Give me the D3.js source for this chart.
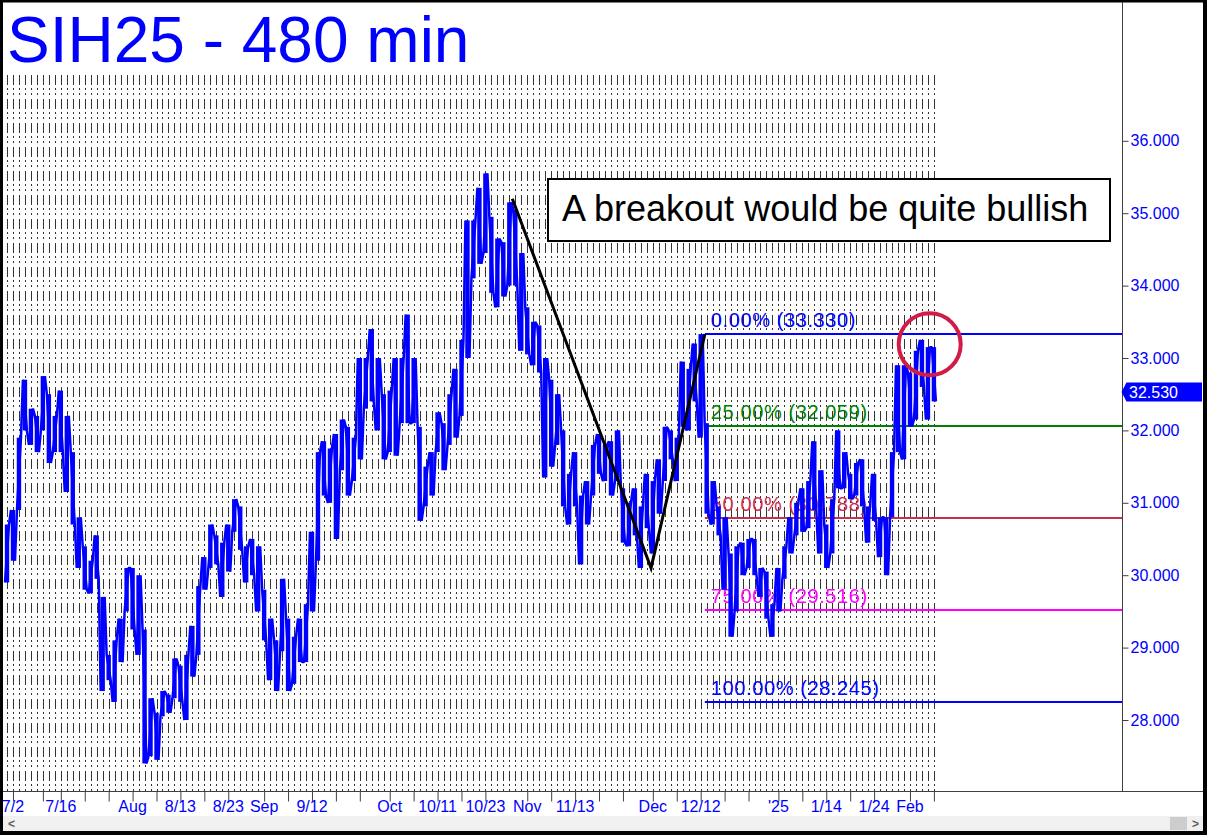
<!DOCTYPE html>
<html><head><meta charset="utf-8">
<script src="https://cdn.jsdelivr.net/npm/d3@7"></script>
<style>html,body{margin:0;padding:0;background:#fff;overflow:hidden}svg{display:block;font-family:Arial,"Liberation Sans",sans-serif}</style>
</head><body>
<script>
// ---------- data ----------
const dates = ["7/1","7/2","7/3","7/8","7/9","7/10","7/11","7/12","7/15","7/16","7/17","7/18","7/19","7/22","7/23","7/24","7/25","7/26","7/29","7/30","7/31",
"8/1","8/2","8/5","8/6","8/7","8/8","8/9","8/12","8/13","8/14","8/15","8/16","8/19","8/20","8/21","8/22","8/23","8/26","8/27","8/28","8/29","8/30",
"9/2","9/3","9/4","9/5","9/6","9/9","9/10","9/11","9/12","9/13","9/16","9/17","9/18","9/19","9/20","9/23","9/24","9/25","9/26","9/27","9/30",
"10/1","10/2","10/3","10/4","10/7","10/8","10/9","10/10","10/11","10/14","10/15","10/16","10/17","10/18","10/21","10/22","10/23","10/24","10/25","10/28","10/29","10/30","10/31",
"11/1","11/4","11/5","11/6","11/7","11/8","11/11","11/12","11/13","11/14","11/15","11/18","11/19","11/20","11/21","11/22","11/25","11/26","11/27","11/28","11/29",
"12/2","12/3","12/4","12/5","12/6","12/9","12/10","12/11","12/12","12/13","12/16","12/17","12/18","12/19","12/20","12/23","12/24","12/26","12/27","12/30","12/31",
"1/2","1/3","1/6","1/7","1/8","1/9","1/10","1/13","1/14","1/15","1/16","1/17","1/20","1/21","1/22","1/23","1/24","1/27","1/28","1/29","1/30","1/31",
"2/3","2/4","2/5","2/6","2/7"];
const highs = [30.7,30.9,31.9,32.7,32.3,32.2,32.75,32.5,32.2,32.55,32.2,31.7,30.8,30.4,30.2,30.55,29.7,28.9,29.1,29.4,30.1,
30.1,30.0,29.25,28.3,28.1,28.4,28.35,28.85,28.75,28.9,29.3,29.85,30.25,30.7,30.55,30.45,30.7,31.05,30.95,30.4,30.5,30.4,
29.8,29.4,29.1,29.95,29.4,29.15,29.4,29.6,30.6,31.7,31.85,31.75,31.95,32.15,32.05,31.9,33.0,33.0,33.4,33.0,32.5,
32.55,33.0,33.0,33.6,33.0,32.05,31.5,31.7,32.25,32.1,32.5,32.85,33.25,34.9,34.9,35.35,35.55,34.95,34.65,34.6,35.15,35.05,34.45,
33.7,33.5,33.45,33.0,32.7,32.5,32.0,31.4,31.7,31.1,31.3,31.8,31.95,31.8,31.85,32.0,31.2,31.0,31.2,30.95,31.4,
31.3,31.6,32.05,32.0,31.9,32.95,32.85,33.2,33.33,32.1,31.3,30.95,30.8,30.3,30.4,30.45,30.5,30.5,30.1,30.05,29.6,
30.1,30.4,30.8,31.0,31.2,31.3,31.85,31.45,30.7,31.05,32.0,31.7,31.4,31.55,31.6,30.95,31.4,30.8,30.8,31.7,32.9,32.9,
32.8,33.1,33.25,33.15,33.15];
const lows = [29.9,30.2,30.9,32.0,31.8,31.7,32.0,31.55,31.7,31.7,31.15,30.7,30.1,29.8,29.75,29.95,28.4,28.55,28.25,28.8,29.5,
29.25,28.9,27.4,27.5,27.45,28.05,28.1,28.3,28.25,28.0,28.6,28.9,29.8,30.1,30.15,29.7,30.05,30.6,30.35,29.9,30.0,29.5,
29.1,28.55,28.4,28.95,28.4,28.5,28.8,28.8,29.5,30.2,31.1,31.0,30.5,31.45,31.1,31.3,31.6,32.3,32.4,32.0,31.6,
31.7,31.65,32.1,32.1,32.1,30.75,30.95,31.1,31.7,31.45,31.8,31.9,32.2,33.0,34.1,34.3,34.45,33.9,33.7,33.85,34.0,34.0,33.1,
33.05,32.9,32.8,31.35,31.5,31.8,30.95,30.7,30.95,30.15,30.7,31.1,31.4,31.3,31.1,31.3,30.45,30.4,30.55,30.1,30.65,
30.3,30.85,31.3,31.6,31.3,32.05,32.0,32.4,31.9,30.85,30.7,30.55,29.8,29.15,29.5,30.0,30.1,30.0,29.7,29.4,29.15,
29.5,29.95,30.3,30.55,30.6,30.65,30.9,30.3,30.1,30.3,31.2,31.2,31.05,31.1,30.95,30.45,30.75,30.25,30.0,30.8,31.7,31.6,
32.05,32.15,32.6,32.15,32.4];
const lastPrice = 32.530;
const priceTicks = [28, 29, 30, 31, 32, 33, 34, 35, 36];
const tickDates = ["7/2","7/11","7/16","7/22","7/26","8/1","8/7","8/13","8/19","8/23","9/2","9/6","9/12","9/18","9/24","10/1","10/7","10/11","10/17","10/23","11/1","11/7","11/13","11/19","11/25","12/2","12/6","12/12","12/18","12/24","1/2","1/8","1/14","1/20","1/24","2/3","2/7"];
const labelDates = ["7/2","7/16","8/1","8/13","8/23","9/2","9/12","10/1","10/11","10/23","11/1","11/13","12/2","12/12","1/2","1/14","1/24","2/3"];
const labelTexts = ["7/2","7/16","Aug","8/13","8/23","Sep","9/12","Oct","10/11","10/23","Nov","11/13","Dec","12/12","'25","1/14","1/24","Feb"];
const fibPct = ["0.00%","25.00%","50.00%","75.00%","100.00%"];
const fibVal = [33.330, 32.059, 30.788, 29.516, 28.245];
const fibColor = ["#0000ff","#008000","#cc2e4e","#ff00ff","#0000ff"];
const pivotIdx = [84.5, 107.7, 116.7];
const pivotVal = [35.2, 30.1, 33.33];
const circleIdx = 154.3, circleVal = 33.19;
const title = "SIH25 - 480 min";
const note = "A breakout would be quite bullish";

// ---------- layout ----------
const W = 1207, H = 835;
const axisX = 1122, axisY = 791, gridTop = 75;
const svg = d3.select("body").append("svg").attr("width", W).attr("height", H);
svg.append("rect").attr("width", W).attr("height", H).attr("fill", "#fff");

const x = d3.scaleLinear().domain([0, dates.length - 1]).range([7, 7 + 5.98 * (dates.length - 1)]);
const y = d3.scaleLinear().domain([27, 38]).range([358 + 6 * 72.4, 358 - 5 * 72.4]);
const xi = d => x(dates.indexOf(d));

// grid
const grid = svg.append("g");
dates.forEach((d, i) => {
  const gx = Math.round(x(i)) + 0.5;
  grid.append("line").attr("x1", gx).attr("x2", gx).attr("y1", gridTop).attr("y2", axisY)
    .attr("stroke", "#333").attr("stroke-width", 1).attr("stroke-dasharray", "10,3,2,3,2,4");
});

// title
svg.append("text").attr("x", 7).attr("y", 62).attr("fill", "#0000ff")
  .attr("font-size", 64).text(title);

// fib lines
const fibStart = x(pivotIdx[2]);
fibVal.forEach((v, k) => {
  const yy = Math.round(y(v));
  svg.append("line").attr("x1", fibStart).attr("x2", axisX).attr("y1", yy).attr("y2", yy)
    .attr("stroke", fibColor[k]).attr("stroke-width", 2);
  svg.append("text").attr("x", fibStart + 6).attr("y", yy - 7).attr("fill", fibColor[k])
    .attr("font-size", 20).attr("letter-spacing", 0.6).text(`${fibPct[k]} (${v.toFixed(3)})`);
});

// price bars
const pts = [];
dates.forEach((d, i) => {
  const cx = x(i);
  if (i % 2 === 0) { pts.push([cx - 2, y(lows[i])], [cx + 2, y(highs[i])]); }
  else { pts.push([cx - 2, y(highs[i])], [cx + 2, y(lows[i])]); }
});
svg.append("path").attr("d", d3.line()(pts)).attr("fill", "none").attr("stroke", "#0000ff")
  .attr("stroke-width", 2.5).attr("stroke-linejoin", "bevel");
svg.append("g").selectAll("rect").data(dates).join("rect")
  .attr("x", (d, i) => x(i) - 2.2).attr("width", 4.4)
  .attr("y", (d, i) => y(highs[i])).attr("height", (d, i) => y(lows[i]) - y(highs[i]))
  .attr("fill", "#0000ff");

// pattern line
svg.append("path").attr("d", d3.line()(pivotIdx.map((p, k) => [x(p), y(pivotVal[k])])))
  .attr("fill", "none").attr("stroke", "#000").attr("stroke-width", 3);

// circle
svg.append("circle").attr("cx", x(circleIdx)).attr("cy", y(circleVal)).attr("r", 31)
  .attr("fill", "none").attr("stroke", "#d21c48").attr("stroke-width", 4);

// note box
svg.append("rect").attr("x", 548).attr("y", 179).attr("width", 562).attr("height", 62)
  .attr("fill", "#fff").attr("stroke", "#000").attr("stroke-width", 2);
svg.append("text").attr("x", 562).attr("y", 221).attr("font-size", 36).attr("fill", "#000").text(note);

// right axis
svg.append("line").attr("x1", axisX + 0.5).attr("x2", axisX + 0.5).attr("y1", 0).attr("y2", axisY)
  .attr("stroke", "#404040");
const ra = svg.append("g").attr("transform", `translate(${axisX + 0.5},0)`)
  .call(d3.axisRight(y).tickValues(priceTicks).tickSize(6).tickPadding(2).tickFormat(d3.format(".3f")));
ra.select(".domain").remove();
ra.selectAll("line").attr("stroke", "#404040");
ra.selectAll("text").attr("fill", "#0000ff").attr("font-size", 16).attr("font-family", "Arial, 'Liberation Sans', sans-serif");

// last price marker
const ly = y(lastPrice);
svg.append("path").attr("d", `M${axisX - 0.5},${ly} L${axisX + 4.5},${ly - 9.5} L1202,${ly - 9.5} L1202,${ly + 9.5} L${axisX + 4.5},${ly + 9.5} Z`)
  .attr("fill", "#0000ff");
svg.append("text").attr("x", 1129).attr("y", ly + 6).attr("fill", "#fff").attr("font-size", 16).text(lastPrice.toFixed(3));

// bottom axis
svg.append("line").attr("x1", 0).attr("x2", W).attr("y1", axisY + 0.5).attr("y2", axisY + 0.5).attr("stroke", "#404040");
const ba = svg.append("g").attr("transform", `translate(0,${axisY + 0.5})`)
  .call(d3.axisBottom(x).tickValues(tickDates.map(d => dates.indexOf(d))).tickSize(10).tickFormat(""));
ba.select(".domain").remove();
ba.selectAll("line").attr("stroke", "#404040");
labelDates.forEach((d, k) => {
  svg.append("text").attr("x", xi(d)).attr("y", 812).attr("text-anchor", "middle")
    .attr("fill", "#0000ff").attr("font-size", 16).text(labelTexts[k]);
});

// scrollbar
svg.append("rect").attr("x", 3).attr("y", 816).attr("width", 1200).attr("height", 15).attr("fill", "#f0f0f0");
svg.append("rect").attr("x", 1170).attr("y", 817).attr("width", 17).attr("height", 13).attr("fill", "#cdcdcd");
svg.append("text").attr("x", 8).attr("y", 828).attr("fill", "#606060").attr("font-size", 12).attr("font-weight", "bold").text("<");
svg.append("text").attr("x", 1192).attr("y", 828).attr("fill", "#606060").attr("font-size", 12).attr("font-weight", "bold").text(">");

// outer border
svg.append("rect").attr("x", 1.5).attr("y", 1).attr("width", W - 4).attr("height", H - 3)
  .attr("fill", "none").attr("stroke", "#000").attr("stroke-width", 3);
svg.append("rect").attr("x", 1203).attr("y", 0).attr("width", 4).attr("height", H).attr("fill", "#000");
svg.append("rect").attr("x", 0).attr("y", 831).attr("width", W).attr("height", 4).attr("fill", "#000");
</script>
</body></html>
